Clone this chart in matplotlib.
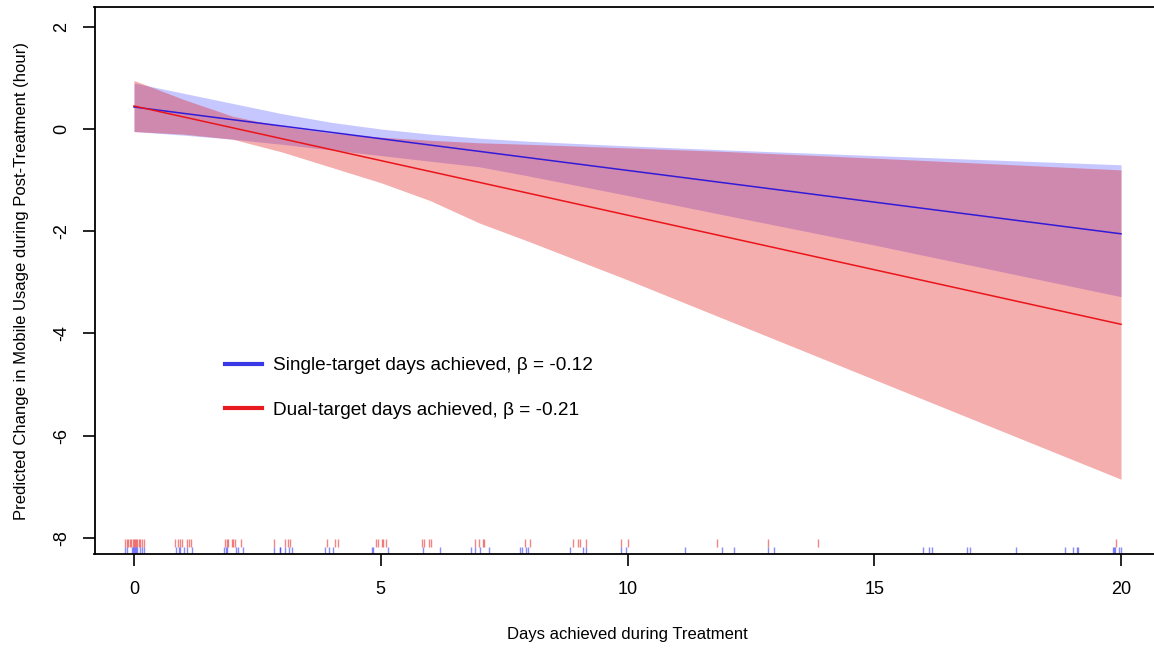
import matplotlib
matplotlib.use("Agg")
import matplotlib.pyplot as plt
from matplotlib.lines import Line2D

plt.rcParams['font.family'] = ['Liberation Sans', 'DejaVu Sans']

### Data ###
x_band = [0, 1, 2, 3, 4, 5, 6, 7, 8, 10, 12, 15, 20]
single_upper = [0.90, 0.70, 0.50, 0.30, 0.13, 0.00, -0.10, -0.18, -0.24, -0.33, -0.41, -0.52, -0.70]
single_lower = [-0.05, -0.12, -0.20, -0.30, -0.41, -0.52, -0.63, -0.74, -0.92, -1.30, -1.69, -2.27, -3.28]
dual_upper = [0.95, 0.58, 0.25, 0.05, -0.08, -0.16, -0.22, -0.27, -0.30, -0.37, -0.44, -0.57, -0.80]
dual_lower = [-0.05, -0.10, -0.20, -0.45, -0.75, -1.05, -1.40, -1.84, -2.20, -2.95, -3.73, -4.90, -6.85]

x_line = [0, 20]
single_fit = [0.43, -2.05]
dual_fit = [0.45, -3.82]

red_rug = [-0.18, -0.15, -0.12, -0.09, -0.06, -0.03, 0.0, 0.02, 0.04, 0.07, 0.1, 0.13, 0.16, 0.2,
           0.84, 0.89, 0.93, 0.97, 1.08, 1.12, 1.15,
           1.84, 1.88, 1.91, 1.98, 2.01, 2.05, 2.16,
           2.83, 3.05, 3.13, 3.16,
           3.92, 4.08, 4.13,
           4.9, 4.94, 5.02, 5.05, 5.11,
           5.84, 5.88, 5.98, 6.02,
           6.91, 7.0, 7.08, 7.1, 7.92, 8.02, 8.89, 8.99, 9.04, 9.15, 9.87, 10.02,
           11.81, 12.85, 13.85, 19.9]
blue_rug = [-0.18, -0.14, -0.04, -0.02, 0.0, 0.02, 0.04, 0.06, 0.12, 0.17, 0.21,
            0.85, 0.91, 0.93, 1.02, 1.08, 1.17,
            1.83, 1.86, 1.89, 2.07, 2.1, 2.2,
            2.84, 2.95, 2.96, 3.06, 3.15, 3.21,
            3.88, 3.96, 4.04,
            4.82, 4.84, 5.14,
            5.86, 6.2,
            6.82, 6.92, 7.01, 7.2, 7.82, 7.86, 7.94, 7.99, 8.83, 9.09, 9.15, 9.87, 9.97,
            11.17, 11.91, 12.16, 12.85, 12.97,
            15.99, 16.1, 16.16, 16.87, 16.94, 17.87, 18.87, 19.03, 19.1, 19.13,
            19.83, 19.85, 19.87, 19.95, 20.0]

x_ticks = [0, 5, 10, 15, 20]
y_ticks = [2, 0, -2, -4, -6, -8]

band_blue = (0.0, 0.0, 1.0, 0.22)
band_red = (0.88, 0.09, 0.09, 0.35)

fig = plt.figure(figsize=(11.54, 6.49), dpi=100)
ax = fig.add_axes([94.5 / 1154, 95 / 649, 1066 / 1154, 547 / 649])

# bands + fitted lines (blue first, red drawn over so the blue line turns purple)
ax.fill_between(x_band, single_lower, single_upper, color=band_blue, linewidth=0)
ax.plot(x_line, single_fit, color=(0.2, 0.1, 0.85), linewidth=1.1)
ax.fill_between(x_band, dual_lower, dual_upper, color=band_red, linewidth=0)
ax.plot(x_line, dual_fit, color=(0.92, 0.08, 0.1), linewidth=1.1)

# rug marks
ax.vlines(red_rug, -8.025, -8.176, color=(0.9, 0.05, 0.05), alpha=0.5, linewidth=1.0)
ax.vlines(blue_rug, -8.176, -8.313, color=(0.1, 0.1, 0.95), alpha=0.5, linewidth=1.0)

ax.set_xlim(-0.8, 20.8)
ax.set_ylim(-8.313, 2.386)

ax.set_xticks(x_ticks)
ax.set_xticklabels([str(v) for v in x_ticks], fontsize=13)
ax.set_yticks(y_ticks)
ax.set_yticklabels([str(v) for v in y_ticks], fontsize=13, rotation=90, va='center')
ax.tick_params(axis='x', length=8.6, width=1.2, pad=11)
ax.tick_params(axis='y', length=8.6, width=1.2, pad=9)
for s in ax.spines.values():
    s.set_linewidth(1.3)

ax.set_xlabel('Days achieved during Treatment', fontsize=12, labelpad=21)
ax.set_ylabel('Predicted Change in Mobile Usage during Post-Treatment (hour)', fontsize=12, labelpad=17)

handles = [Line2D([0], [0], color=(0.22, 0.22, 0.9), linewidth=3),
           Line2D([0], [0], color=(0.9, 0.1, 0.12), linewidth=3)]
labels = ['Single-target days achieved, \u03b2 = -0.12', 'Dual-target days achieved, \u03b2 = -0.21']
ax.legend(handles, labels, loc='center left', bbox_to_anchor=(0.106, 0.3035), frameon=False,
          fontsize=13.7, handlelength=1.95, handletextpad=0.6, labelspacing=1.45)

fig.savefig('out.png', dpi=100)
